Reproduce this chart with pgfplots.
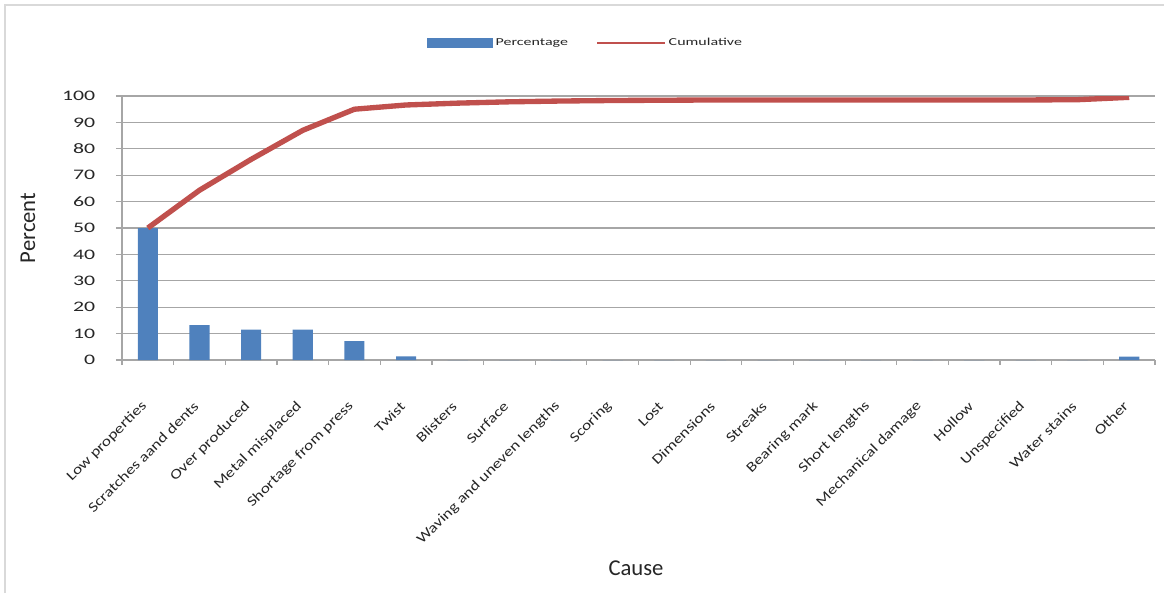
\documentclass[border=0pt]{standalone}
\usepackage{pgfplots}
\usepackage{pgfplotstable}
\pgfplotsset{compat=1.18}
\usepackage{fontspec}
\setmainfont{Carlito}[FakeStretch=1.5]
\newfontfamily\rotfont{Carlito}[FakeStretch=1.25]
\newfontfamily\plainfont{Carlito}
\definecolor{barblue}{HTML}{4F81BD}
\definecolor{linered}{HTML}{C0504D}
\definecolor{gridgray}{HTML}{A6A6A6}
\definecolor{framegray}{HTML}{D9D9D9}
\definecolor{txt}{HTML}{262626}

\pgfplotstableread{
x pct cum
0 50 50
1 13.2 64.3
2 11.5 76
3 11.5 87
4 7.2 95
5 1.4 96.6
6 0 97.3
7 0 97.8
8 0 98.1
9 0 98.3
10 0 98.4
11 0 98.5
12 0 98.5
13 0 98.5
14 0 98.5
15 0 98.5
16 0 98.5
17 0 98.5
18 0 98.6
19 1.3 99.5
}\data

\begin{document}
\begin{tikzpicture}
\useasboundingbox (0,0) rectangle (873pt,-444.75pt);
\draw[framegray, line width=1.5pt] (3.75pt,-444.75pt) -- (3.75pt,-3.75pt) -- (873pt,-3.75pt);
\begin{axis}[
  at={(91.5pt,-270pt)}, anchor=south west,
  scale only axis, width=774.75pt, height=198pt,
  xmin=-0.5, xmax=19.5, ymin=0, ymax=100,
  axis x line*=bottom, axis y line*=left,
  axis line style={-, draw=gridgray, line width=0.9pt},
  tick align=outside,
  ytick={0,10,...,100},
  ymajorgrids, major grid style={draw=gridgray, line width=0.9pt},
  major tick length=4.5pt, minor tick length=3.75pt,
  tick style={draw=gridgray, line width=0.9pt},
  xtick={0,...,19},
  major x tick style={draw=none},
  minor xtick={-0.5,0.5,...,19.5},
  xticklabels={Low properties, Scratches aand dents, Over produced, Metal misplaced, Shortage from press, Twist, Blisters, Surface, Waving and uneven lengths, Scoring, Lost, Dimensions, Streaks, Bearing mark, Short lengths, Mechanical damage, Hollow, Unspecified, Water stains, Other},
  xticklabel style={rotate=45, anchor=east, font=\rotfont\fontsize{10.5}{12}\selectfont, text=txt},
  xticklabel shift=26pt,
  yticklabel style={font=\fontsize{10.9}{12}\selectfont, text=txt, xshift=-12pt},
  /pgf/number format/assume math mode=true,
  xlabel={Cause}, ylabel={Percent},
  every axis x label/.style={at={(axis description cs:0.4976,-0.788)}, anchor=center, font=\plainfont\fontsize{17}{20}\selectfont, text=txt},
  every axis y label/.style={at={(axis description cs:-0.0910,0.5)}, rotate=90, anchor=center, font=\plainfont\fontsize{17}{20}\selectfont, text=txt},
  legend columns=2,
  legend style={at={(axis description cs:0.449,1.2008)}, anchor=center, draw=none, fill=none,
    font=\fontsize{8}{9}\selectfont, text=txt,
    /tikz/every even column/.append style={column sep=19pt}},
]
\addplot[ybar, bar width=0.39, fill=barblue, draw=none,
  legend image code/.code={\fill[barblue] (0pt,-3.4pt) rectangle (49.5pt,3.4pt);}]
  table[x=x, y=pct] {\data};
\addlegendentry{Percentage}
\addplot[linered, line width=4pt, line join=round, mark=none,
  legend image code/.code={\draw[linered, line width=1.5pt] (0pt,0pt) -- (51pt,0pt);}]
  table[x=x, y=cum] {\data};
\addlegendentry{Cumulative}
\end{axis}
\end{tikzpicture}
\end{document}
